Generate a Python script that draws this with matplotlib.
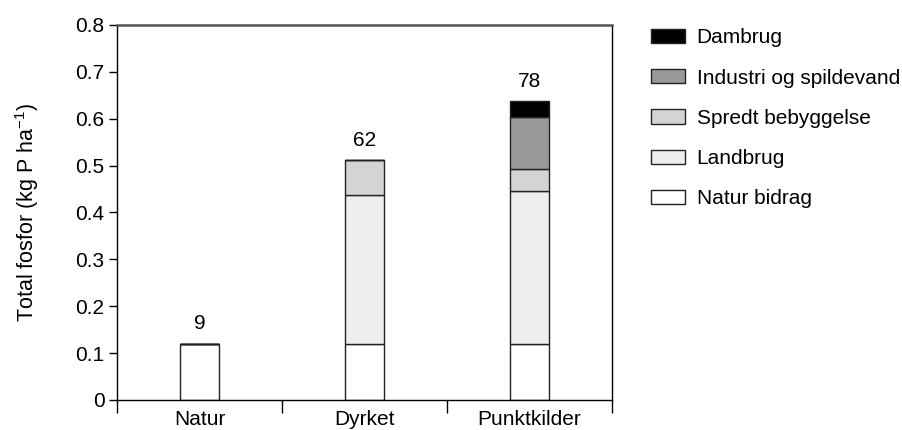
import matplotlib
matplotlib.use("Agg")
import matplotlib.pyplot as plt
import numpy as np

plt.rcParams['font.family'] = ['Liberation Sans', 'DejaVu Sans']

categories = ["Natur", "Dyrket", "Punktkilder"]
sources = ["Natur bidrag", "Landbrug", "Spredt bebyggelse",
           "Industri og spildevand", "Dambrug"]
natur_bidrag = [0.12, 0.12, 0.12]
landbrug = [0.0, 0.317, 0.325]
spredt = [0.0, 0.075, 0.048]
industri = [0.0, 0.0, 0.111]
dambrug = [0.0, 0.0, 0.034]
bar_labels = ["9", "62", "78"]

colors = ["white", "#eeeeee", "#d4d4d4", "#999999", "black"]
layers = [natur_bidrag, landbrug, spredt, industri, dambrug]
fs = 15

fig = plt.figure(figsize=(9.03, 4.30), dpi=100)
ax = fig.add_axes([0.1296, 0.0698, 0.5481, 0.8721])

x = np.arange(len(categories))
bottom = np.zeros(len(categories))
handles = []
for vals, col, name in zip(layers, colors, sources):
    vals = np.array(vals)
    b = ax.bar(x, vals, 0.24, bottom=bottom, color=col, edgecolor="#222222",
               linewidth=1.0, label=name)
    handles.append(b)
    bottom += vals

for xi, top, lab in zip(x, bottom, bar_labels):
    ax.text(xi, top + 0.022, lab, ha="center", va="bottom", fontsize=fs)

ax.set_xlim(-0.5, 2.5)
ax.set_ylim(0, 0.8)
ax.set_yticks(np.arange(0, 0.81, 0.1))
ax.set_yticklabels(["0"] + ["%.1f" % v for v in np.arange(0.1, 0.81, 0.1)])
ax.set_xticks(x)
ax.set_xticklabels(categories)
ax.set_xticks([-0.5, 0.5, 1.5, 2.5], minor=True)
ax.tick_params(axis="x", which="major", length=0, labelsize=fs, pad=7.5)
ax.tick_params(axis="x", which="minor", length=9, width=1.0, direction="out")
ax.tick_params(axis="y", length=6, width=1.0, labelsize=fs, pad=3)
ax.set_ylabel("Total fosfor (kg P ha$^{\\mathregular{-1}}$)", fontsize=15.5,
              labelpad=25)

for s in ["left", "right", "bottom"]:
    ax.spines[s].set_color("black")
    ax.spines[s].set_linewidth(1.0)
ax.spines["top"].set_color("#555555")
ax.spines["top"].set_linewidth(1.8)

leg = fig.legend(handles[::-1], sources[::-1], loc="upper left",
                 bbox_to_anchor=(0.7205, 0.934), frameon=False, fontsize=fs,
                 handlelength=1.63, handleheight=0.67, labelspacing=1.02,
                 handletextpad=0.58, borderaxespad=0, borderpad=0)

fig.savefig("out.png", dpi=100)
